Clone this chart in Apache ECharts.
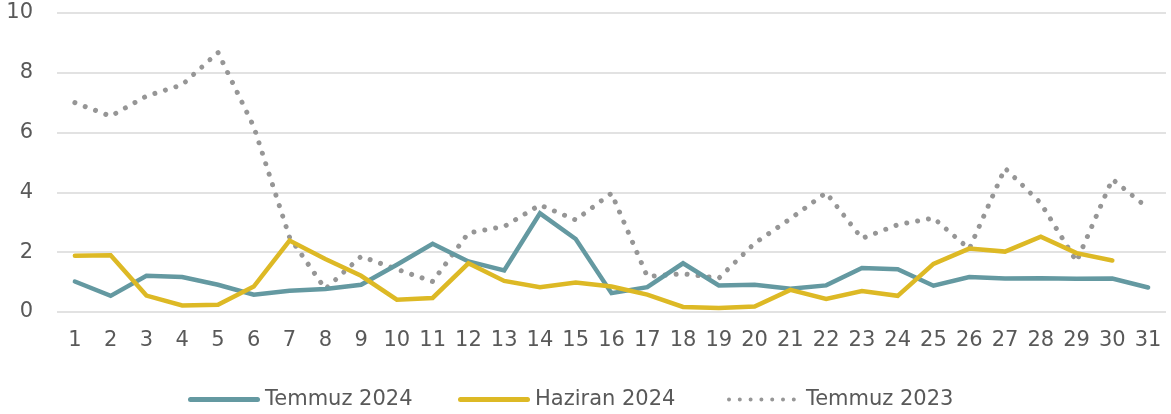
<!DOCTYPE html>
<html><head><meta charset="utf-8">
<script src="https://cdn.jsdelivr.net/npm/echarts@6/dist/echarts.min.js"></script>
<style>html,body{margin:0;padding:0;background:#fff}#c{width:1171px;height:414px}</style>
</head><body><div id="c"></div>
<script>
const categories = ['1','2','3','4','5','6','7','8','9','10','11','12','13','14','15','16','17','18','19','20','21','22','23','24','25','26','27','28','29','30','31'];
const temmuz2024 = [1.02,0.54,1.21,1.17,0.91,0.58,0.71,0.77,0.91,1.58,2.28,1.69,1.39,3.30,2.44,0.63,0.83,1.63,0.89,0.91,0.78,0.89,1.47,1.43,0.88,1.17,1.12,1.13,1.11,1.12,0.82];
const haziran2024 = [1.88,1.90,0.55,0.22,0.24,0.85,2.39,1.77,1.21,0.41,0.47,1.63,1.04,0.83,0.99,0.85,0.58,0.17,0.13,0.18,0.74,0.44,0.70,0.54,1.61,2.12,2.02,2.52,1.97,1.72,null];
const temmuz2023 = [7.0,6.55,7.22,7.6,8.68,6.2,2.5,0.77,1.86,1.43,1.02,2.64,2.86,3.58,3.08,3.97,1.19,1.28,1.13,2.30,3.12,3.99,2.46,2.92,3.14,2.11,4.81,3.64,1.69,4.44,3.47];
const yTicks = [0,2,4,6,8,10];
const seriesNames = ['Temmuz 2024','Haziran 2024','Temmuz 2023'];

const font = '"DejaVu Sans", sans-serif';
const solidIcon = 'path://M2.5,0 L69.5,0 A2.5,2.5 0 0 1 69.5,5 L2.5,5 A2.5,2.5 0 0 1 2.5,0 Z';
let dots = '';
for (let i = 0; i < 7; i++) { const cx = 2 + i * 10.8; dots += `M${cx-2},2 A2,2 0 1 0 ${cx+2},2 A2,2 0 1 0 ${cx-2},2 Z `; }
const dotIcon = 'path://' + dots;
const legendText = {color:'#595959',fontSize:21,fontFamily:font};
function lg(name, left, icon, w, h, pad) {
  return {left:left, top:384, data:[{name:name, icon:icon}], itemWidth:w, itemHeight:h,
    textStyle:Object.assign({padding:[0,0,0,pad]}, legendText), selectedMode:false};
}
const chart = echarts.init(document.getElementById('c'), null, {renderer:'canvas'});
chart.setOption({
  animation:false,
  grid:{left:57,right:5,top:13,bottom:102,containLabel:false},
  legend:[
    lg(seriesNames[0],183,solidIcon,72,5,0),
    lg(seriesNames[1],453,solidIcon,72,5,0),
    lg(seriesNames[2],722,dotIcon,69,4,5)
  ],
  xAxis:{type:'category',data:categories,boundaryGap:true,
    axisLine:{show:false},axisTick:{show:false},
    axisLabel:{color:'#595959',fontSize:21,fontFamily:font,margin:18,interval:0}},
  yAxis:{type:'value',min:yTicks[0],max:yTicks[yTicks.length-1],interval:2,
    axisLine:{show:false},axisTick:{show:false},
    axisLabel:{color:'#595959',fontSize:21,fontFamily:font,margin:24},
    splitLine:{lineStyle:{color:'#D9D9D9',width:1.5}}},
  series:[
    {name:seriesNames[0],type:'line',data:temmuz2024,symbol:'none',showSymbol:false,
      lineStyle:{color:'#6499A1',width:4.5,cap:'round',join:'miter'},itemStyle:{color:'#6499A1'},z:3},
    {name:seriesNames[1],type:'line',data:haziran2024,symbol:'none',showSymbol:false,
      lineStyle:{color:'#DDB925',width:4.5,cap:'round',join:'miter'},itemStyle:{color:'#DDB925'},z:4},
    {name:seriesNames[2],type:'line',data:temmuz2023,symbol:'none',showSymbol:false,
      lineStyle:{color:'#969696',width:5,type:[0.01,11],cap:'round'},itemStyle:{color:'#969696'},z:2}
  ]
});
</script></body></html>
